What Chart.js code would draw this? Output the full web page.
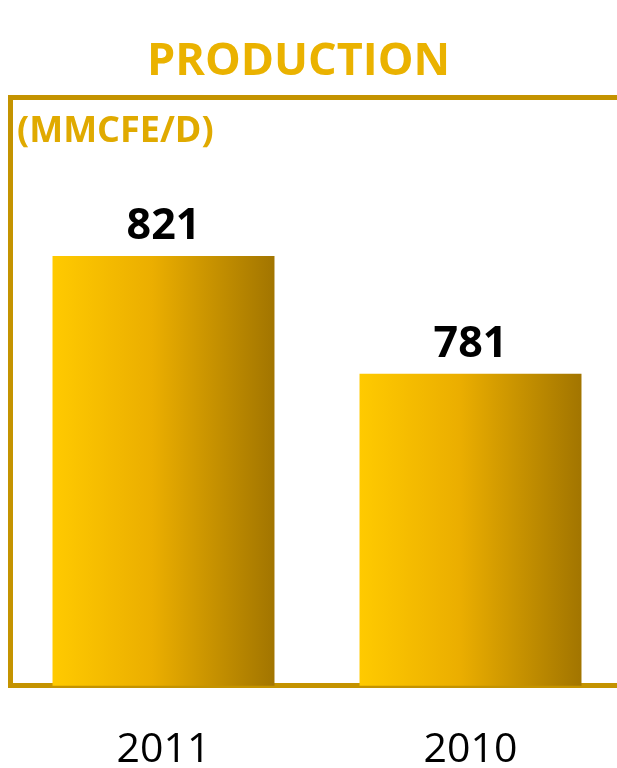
<!DOCTYPE html>
<html>
<head>
<meta charset="utf-8">
<script src="https://cdn.jsdelivr.net/npm/chart.js@4.4.1/dist/chart.umd.min.js"></script>
<style>
  html, body { margin: 0; padding: 0; background: #ffffff; overflow: hidden; width: 617px; height: 768px; }
  #wrap { position: relative; width: 617px; height: 768px; overflow: hidden; }
  #c { position: absolute; left: -28px; top: 0; }
</style>
</head>
<body>
<div id="wrap"><canvas id="c" width="652" height="843"></canvas></div>
<script>
// ---- data ----
const categories = ['2011', '2010'];
const production = [821, 781];
const chartTitle = 'PRODUCTION';
const unitLabel = '(MMCFE/D)';
const axisMin = 675;
const axisMax = 875;

// ---- styles ----
const GOLD = '#C49300';
const FONT = '"Open Sans", "Noto Sans", sans-serif';

const canvas = document.getElementById('c');
const ctx0 = canvas.getContext('2d');
const titleGrad = ctx0.createLinearGradient(0, 44, 0, 78);
titleGrad.addColorStop(0, '#EAB200');
titleGrad.addColorStop(1, '#A47600');

const BAR_PCT = 0.723;

const labelPlugin = {
  id: 'valueLabels',
  afterDatasetsDraw(chart) {
    const { ctx, chartArea } = chart;
    const meta = chart.getDatasetMeta(0);
    ctx.save();
    ctx.font = 'bold 43px ' + FONT;
    ctx.fillStyle = '#000000';
    ctx.textAlign = 'center';
    ctx.textBaseline = 'alphabetic';
    meta.data.forEach((bar, i) => {
      ctx.fillText(String(production[i]), bar.x, bar.y - 17);
    });
    ctx.font = 'bold 36px ' + FONT;
    ctx.fillStyle = '#E0AA00';
    ctx.textAlign = 'left';
    ctx.fillText(unitLabel, chartArea.left + 7, chartArea.top + 45);
    ctx.restore();
  }
};

new Chart(canvas, {
  type: 'bar',
  data: {
    labels: categories,
    datasets: [{
      data: production,
      backgroundColor: (c) => {
        const chart = c.chart;
        const xs = chart.scales && chart.scales.x;
        if (!xs || c.dataIndex === undefined || !chart.chartArea) return '#E4A800';
        const cx = xs.getPixelForValue(c.dataIndex);
        const half = (xs.width / categories.length) * BAR_PCT / 2;
        const g = chart.ctx.createLinearGradient(cx - half, 0, cx + half, 0);
        g.addColorStop(0, '#FFCA00');
        g.addColorStop(0.45, '#EBAE00');
        g.addColorStop(1, '#A27500');
        return g;
      },
      borderWidth: 0,
      categoryPercentage: 1,
      barPercentage: BAR_PCT
    }]
  },
  options: {
    responsive: false,
    animation: false,
    devicePixelRatio: 1,
    layout: { padding: { left: 1, right: 0, top: 0, bottom: 28 } },
    plugins: {
      legend: { display: false },
      tooltip: { enabled: false },
      title: {
        display: true,
        text: chartTitle,
        color: titleGrad,
        font: { family: FONT, size: 45, weight: 'bold' },
        padding: { top: 35, bottom: 8 }
      }
    },
    scales: {
      x: {
        grid: { display: false, drawTicks: false },
        border: { display: true, color: GOLD, width: 5 },
        ticks: {
          color: '#000000',
          font: { family: FONT, size: 41, weight: 'normal' },
          padding: 40,
          maxRotation: 0
        }
      },
      y: {
        min: axisMin,
        max: axisMax,
        ticks: { display: false, stepSize: 50 },
        grid: {
          drawTicks: false,
          lineWidth: 5,
          color: (c) => (c.tick && c.tick.value === axisMax) ? GOLD : 'rgba(0,0,0,0)'
        },
        border: { display: true, color: GOLD, width: 5 },
        afterFit: (s) => { s.width = 37; }
      }
    }
  },
  plugins: [labelPlugin]
});
</script>
</body>
</html>
